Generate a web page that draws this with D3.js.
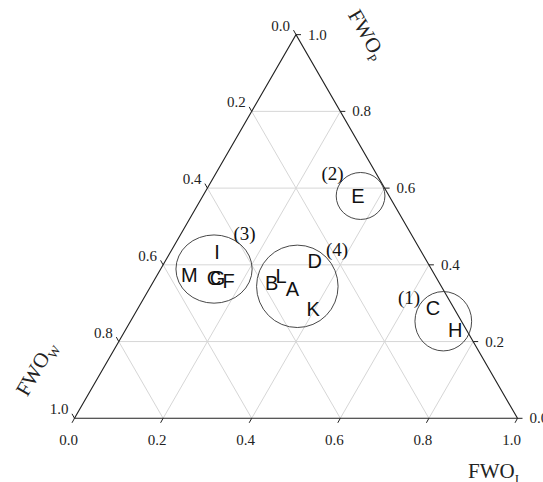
<!DOCTYPE html>
<html>
<head>
<meta charset="utf-8">
<script src="https://cdn.jsdelivr.net/npm/d3@7"></script>
<style>
  body { margin: 0; background: #fff; }
  svg { display: block; }
</style>
</head>
<body>
<div id="ternary"></div>
<script>
// sample points (fractions, FWO_I + FWO_P + FWO_W = 1)
const sampleNames = ["E", "I", "M", "C", "G", "F", "B", "L", "A", "D", "K", "C", "H"];
const fwoI = [0.350, 0.105, 0.072, 0.132, 0.140, 0.169, 0.269, 0.281, 0.323, 0.337, 0.396, 0.665, 0.745];
const fwoP = [0.580, 0.433, 0.374, 0.366, 0.366, 0.358, 0.352, 0.370, 0.338, 0.411, 0.285, 0.288, 0.229];
const fwoW = [0.070, 0.462, 0.554, 0.502, 0.494, 0.473, 0.379, 0.349, 0.339, 0.252, 0.319, 0.047, 0.026];

// groups circled on the chart
const groupNames = ["(1)", "(2)", "(3)", "(4)"];
const groupI = [0.706, 0.356, 0.1205, 0.331];
const groupP = [0.253, 0.5795, 0.389, 0.344];
const groupRx = [0.064, 0.055, 0.086, 0.092];
const groupRy = [0.067, 0.053, 0.077, 0.093];
const groupLabelI = [0.597, 0.264, 0.143, 0.373];
const groupLabelP = [0.316, 0.637, 0.482, 0.439];

const tickValues = [0.0, 0.2, 0.4, 0.6, 0.8, 1.0];
const gridValues = [0.2, 0.4, 0.6, 0.8];

const width = 543, height = 482;
const x0 = 74.5, y0 = 418.3, side = 443;
const triH = side * Math.sqrt(3) / 2;

const x = d3.scaleLinear().domain([0, 1]).range([x0, x0 + side]);
const y = d3.scaleLinear().domain([0, 1]).range([y0, y0 - triH]);

// ternary -> screen
function px(i, p) { return x(i + p / 2); }
function py(p) { return y(p); }

const svg = d3.select("#ternary")
    .append("svg")
    .attr("width", width)
    .attr("height", height);

const serif = "'Liberation Serif', 'Times New Roman', serif";
const sans = "'Liberation Sans', Arial, sans-serif";

// grid lines
const grid = svg.append("g")
    .attr("stroke", "#d6d6d6")
    .attr("stroke-width", 1)
    .attr("fill", "none");

gridValues.forEach(v => {
    // constant P (horizontal)
    grid.append("line")
        .attr("x1", px(0, v)).attr("y1", py(v))
        .attr("x2", px(1 - v, v)).attr("y2", py(v));
    // constant I (parallel to left edge)
    grid.append("line")
        .attr("x1", px(v, 0)).attr("y1", py(0))
        .attr("x2", px(v, 1 - v)).attr("y2", py(1 - v));
    // constant W (parallel to right edge)
    grid.append("line")
        .attr("x1", px(1 - v, 0)).attr("y1", py(0))
        .attr("x2", px(0, 1 - v)).attr("y2", py(1 - v));
});

// triangle outline
svg.append("path")
    .attr("d", d3.line()([[px(0, 0), py(0)], [px(1, 0), py(0)], [px(0, 1), py(1)]]) + "Z")
    .attr("fill", "none")
    .attr("stroke", "#222")
    .attr("stroke-width", 1.1);

// ticks + labels
const fmt = d3.format(".1f");
const ticks = svg.append("g").attr("stroke", "#222").attr("stroke-width", 1);
const tickLabels = svg.append("g")
    .style("font-family", serif)
    .style("font-size", "15px")
    .attr("fill", "#222");

tickValues.forEach(v => {
    // FWO_I on the bottom edge
    let bx = px(v, 0), by = py(0);
    ticks.append("line").attr("x1", bx).attr("y1", by).attr("x2", bx - 2.5).attr("y2", by + 4.5);
    tickLabels.append("text").attr("x", bx - 6).attr("y", by + 27)
        .attr("text-anchor", "middle").text(fmt(v));

    // FWO_P on the right edge
    let rx = px(1 - v, v), ry = py(v);
    ticks.append("line").attr("x1", rx).attr("y1", ry).attr("x2", rx + 5).attr("y2", ry);
    tickLabels.append("text").attr("x", rx + 12).attr("y", ry + 5)
        .attr("text-anchor", "start").text(fmt(v));

    // FWO_W on the left edge
    let lx = px(0, 1 - v), ly = py(1 - v);
    ticks.append("line").attr("x1", lx).attr("y1", ly).attr("x2", lx - 2.5).attr("y2", ly - 4.5);
    tickLabels.append("text").attr("x", lx - 6).attr("y", ly - 4)
        .attr("text-anchor", "end").text(fmt(v));
});

// axis titles
function axisTitle(sub, tx, ty, angle, anchor) {
    const t = svg.append("text")
        .attr("transform", `translate(${tx},${ty}) rotate(${angle})`)
        .attr("text-anchor", anchor)
        .style("font-family", serif)
        .style("font-size", "21px")
        .attr("fill", "#222");
    t.append("tspan").text("FWO");
    t.append("tspan").attr("dy", 5).style("font-size", "13px").text(sub);
    return t;
}
axisTitle("P", 361, 38, 60, "middle");
axisTitle("W", 42, 372, -60, "middle");
axisTitle("I", 468, 478, 0, "start");

// group circles
svg.append("g")
    .selectAll("ellipse")
    .data(groupNames)
    .join("ellipse")
    .attr("cx", (d, i) => px(groupI[i], groupP[i]))
    .attr("cy", (d, i) => py(groupP[i]))
    .attr("rx", (d, i) => x(groupRx[i]) - x(0))
    .attr("ry", (d, i) => x(groupRy[i]) - x(0))
    .attr("fill", "none")
    .attr("stroke", "#333")
    .attr("stroke-width", 0.9);

svg.append("g")
    .selectAll("text")
    .data(groupNames)
    .join("text")
    .attr("x", (d, i) => px(groupLabelI[i], groupLabelP[i]))
    .attr("y", (d, i) => py(groupLabelP[i]))
    .attr("text-anchor", "middle")
    .attr("dominant-baseline", "central")
    .style("font-family", serif)
    .style("font-size", "19px")
    .attr("fill", "#111")
    .text(d => d);

// sample letters
svg.append("g")
    .selectAll("text")
    .data(sampleNames)
    .join("text")
    .attr("x", (d, i) => px(fwoI[i], fwoP[i]))
    .attr("y", (d, i) => py(fwoP[i]))
    .attr("text-anchor", "middle")
    .attr("dominant-baseline", "central")
    .style("font-family", sans)
    .style("font-size", "20px")
    .attr("fill", "#111")
    .text(d => d);
</script>
</body>
</html>
